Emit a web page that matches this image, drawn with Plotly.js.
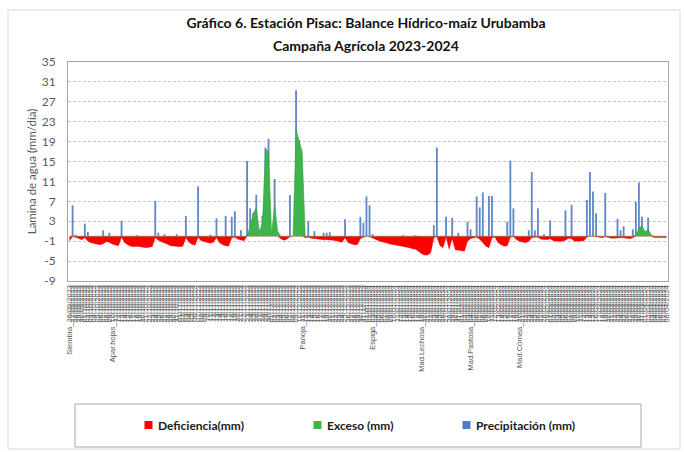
<!DOCTYPE html>
<html>
<head>
<meta charset="utf-8">
<script src="https://cdn.plot.ly/plotly-3.0.1.min.js"></script>
<style>html,body{margin:0;padding:0;background:#fff;}#chart{width:684px;height:452px;}</style>
</head>
<body>
<div id="chart"></div>
<script>
// Fechas (categorías del eje X) con etapas fenológicas
const fechas = [
"Siembra_26/09/2023","27/09/2023","28/09/2023","29/09/2023","30/09/2023",
"01/10/2023","02/10/2023","03/10/2023","04/10/2023","05/10/2023","06/10/2023","07/10/2023","08/10/2023","09/10/2023","Apar.hojas_10/10/2023",
"11/10/2023","12/10/2023","13/10/2023","14/10/2023","15/10/2023","16/10/2023","17/10/2023","18/10/2023","19/10/2023","20/10/2023",
"21/10/2023","22/10/2023","23/10/2023","24/10/2023","25/10/2023","26/10/2023","27/10/2023","28/10/2023","29/10/2023","30/10/2023","31/10/2023",
"01/11/2023","02/11/2023","03/11/2023","04/11/2023","05/11/2023","06/11/2023","07/11/2023","08/11/2023","09/11/2023","10/11/2023",
"11/11/2023","12/11/2023","13/11/2023","14/11/2023","15/11/2023","16/11/2023","17/11/2023","18/11/2023","19/11/2023","20/11/2023",
"21/11/2023","22/11/2023","23/11/2023","24/11/2023","25/11/2023","26/11/2023","27/11/2023","28/11/2023","29/11/2023","30/11/2023",
"01/12/2023","02/12/2023","03/12/2023","04/12/2023","05/12/2023","06/12/2023","07/12/2023","08/12/2023","09/12/2023","10/12/2023",
"Panoja_11/12/2023","12/12/2023","13/12/2023","14/12/2023","15/12/2023","16/12/2023","17/12/2023","18/12/2023","19/12/2023","20/12/2023",
"21/12/2023","22/12/2023","23/12/2023","24/12/2023","25/12/2023","26/12/2023","27/12/2023","28/12/2023","29/12/2023","30/12/2023","31/12/2023",
"01/01/2024","02/01/2024","Espiga_03/01/2024","04/01/2024","05/01/2024","06/01/2024","07/01/2024","08/01/2024","09/01/2024","10/01/2024",
"11/01/2024","12/01/2024","13/01/2024","14/01/2024","15/01/2024","16/01/2024","17/01/2024","18/01/2024","Mad.Lechosa_19/01/2024","20/01/2024",
"21/01/2024","22/01/2024","23/01/2024","24/01/2024","25/01/2024","26/01/2024","27/01/2024","28/01/2024","29/01/2024","30/01/2024","31/01/2024",
"01/02/2024","02/02/2024","03/02/2024","Mad.Pastosa_04/02/2024","05/02/2024","06/02/2024","07/02/2024","08/02/2024","09/02/2024","10/02/2024",
"11/02/2024","12/02/2024","13/02/2024","14/02/2024","15/02/2024","16/02/2024","17/02/2024","18/02/2024","19/02/2024","Mad.Córnea_20/02/2024",
"21/02/2024","22/02/2024","23/02/2024","24/02/2024","25/02/2024","26/02/2024","27/02/2024","28/02/2024","29/02/2024",
"01/03/2024","02/03/2024","03/03/2024","04/03/2024","05/03/2024","06/03/2024","07/03/2024","08/03/2024","09/03/2024","10/03/2024",
"11/03/2024","12/03/2024","13/03/2024","14/03/2024","15/03/2024","16/03/2024","17/03/2024","18/03/2024","19/03/2024","20/03/2024",
"21/03/2024","22/03/2024","23/03/2024","24/03/2024","25/03/2024","26/03/2024","27/03/2024","28/03/2024","29/03/2024","30/03/2024","31/03/2024",
"01/04/2024","02/04/2024","03/04/2024","04/04/2024","05/04/2024","06/04/2024","07/04/2024","08/04/2024"
];

// Deficiencia (mm) - valores negativos
const deficiencia = [
-0.9,-0.1,-0.2,-0.5,-0.7,-0.3,-1.0,-1.3,-1.5,-1.6,
-1.7,-1.5,-1.1,-1.2,-1.6,-1.8,-1.9,-0.2,-1.3,-1.7,
-2.0,-2.1,-2.0,-2.1,-2.2,-2.3,-2.2,-2.1,-0.3,-0.8,
-1.1,-1.3,-1.6,-1.9,-2.0,-2.0,-2.1,-2.0,-0.3,-1.2,
-1.6,-1.8,-0.2,-0.9,-1.1,-1.3,-1.4,-1.2,-0.3,-1.3,
-1.7,-1.9,-2.0,-0.3,-0.2,-0.6,-0.7,-0.9,0,0,
0,0,0,0,0,0,0,0,0,-0.5,
-0.8,-0.6,-0.1,0,0,0,0,-0.3,-0.2,-0.4,
-0.5,-0.6,-0.6,-0.7,-0.7,-0.7,-0.8,-0.9,-1.0,-1.2,
-0.3,-1.3,-1.5,-1.7,-1.7,-0.5,-0.2,0,-0.1,-0.4,
-0.7,-0.9,-1.1,-1.3,-1.4,-1.6,-1.7,-1.8,-1.9,-2.0,
-2.1,-2.3,-2.5,-2.6,-3.0,-3.5,-3.8,-3.8,-3.3,-0.3,
-0.1,-1.9,-2.3,-0.2,-2.6,-0.5,-2.7,-2.8,-2.9,-3.0,
-1.0,-0.5,-0.3,-0.2,-0.6,-1.2,-2.0,-2.3,-0.3,-0.2,
-1.3,-1.7,-2.0,-1.9,-0.2,-0.1,-0.7,-1.0,-1.2,-1.3,
-1.0,-0.3,-0.2,-0.2,-0.6,-0.7,-0.7,-0.5,-0.9,-1.0,
-1.0,-1.0,-0.8,-0.4,-0.5,-1.0,-1.0,-1.0,-0.9,-0.2,
0,0,-0.1,-0.2,-0.3,-0.1,-0.3,-0.4,-0.4,-0.3,
-0.3,-0.3,-0.4,-0.5,-0.3,0,0,0,0,0,
0,-0.25,-0.25,-0.25,-0.25,-0.25
];

// Exceso (mm)
const exceso = [
0,0,0,0,0,0,0,0,0,0,
0,0,0,0,0,0,0,0,0,0,
0,0,0,0,0,0,0,0,0,0,
0,0,0,0,0,0,0,0,0,0,
0,0,0,0,0,0,0,0,0,0,
0,0,0,0,0,0,0,0,0,2.0,
4.6,5.7,1.0,2.5,17.5,17.0,0.5,6.4,1.0,0,
0,0,0,0,21.3,19.3,17.0,0,0,0,
0,0,0,0,0,0,0,0,0,0,
0,0,0,0,0,0,0,0,0,0,
0,0,0,0,0,0,0,0,0,0,
0,0,0,0,0,0,0,0,0,0,
0,0,0,0,0,0,0,0,0,0,
0,0,0,0,0,0,0,0,0,0,
0,0,0,0,0,0,0,0,0,0,
0,0,0,0,0,0,0,0,0,0,
0,0,0,0,0,0,0,0,0,0,
0,0,0,0,0,0,0,0,0,0,
0,0,0,0,0,0.3,1.5,2.2,0.9,1.4,
0.3,0,0,0,0,0
];

// Precipitación (mm)
const precipitacion = [
0,6.2,0.3,0,0,2.5,0.9,0,0,0,
0,1.2,0,0.7,0,0,0,3.1,0,0,
0,0,0.2,0,0,0,0,0,7.1,0.7,
0,0.4,0,0,0,0.4,0,0,4.1,0,
0,0,10.0,0,0,0,0.3,0,3.6,0,
0,4.1,0,3.9,5.0,0,1.2,0,15.1,5.6,
4.6,8.3,0,4.1,17.8,19.6,0,11.5,0,0,
0,0,8.3,0,29.3,19.3,10.6,0,3.1,0,
1.0,0,0,0.7,0.7,0.8,0,0,0,0,
3.4,0,0,0,0,3.9,2.7,8.0,6.2,0.4,
0,0,0,0,0,0,0,0,0,0.2,
0,0,0,0.2,0,0,0,0,0,2.2,
17.8,0,0,3.9,0,3.7,0,0.7,0,0,
2.9,1.4,0,8.0,5.8,8.8,0,8.1,8.1,0,
0,0,0,2.9,15.2,5.6,0,0,0,0,
1.2,12.9,1.2,5.6,0,0.4,0,3.2,0,0,
0,0,5.2,0,6.3,0,0,0,0,7.3,
12.9,9.0,4.6,0,0,8.7,0,0,0,3.5,
1.2,2.0,0,0,1.4,6.9,10.8,3.9,0,3.7,
0,0,0,0,0,0
];

const yTicks = [-9,-5,-1,3,7,11,15,19,23,27,31,35];

const nombres = ["Deficiencia(mm)", "Exceso (mm)", "Precipitación (mm)"];
const colores = ["#ff0000", "#3db54a", "#4f7fc0"];

// plot area geometry helpers (pixels -> paper)
const PL = 68, PW = 600, PT = 62, PH = 219;
function fx(x){ return (x - PL) / PW; }
function fy(y){ return (PT + PH - y) / PH; }

const traces = [
  {
    type: 'scatter', mode: 'lines', name: nombres[0],
    x: fechas, y: deficiencia,
    fill: 'tozeroy', fillcolor: colores[0],
    line: {color: colores[0], width: 0.4, shape: 'linear'},
    hoverinfo: 'skip', showlegend: false
  },
  {
    type: 'scatter', mode: 'lines', name: nombres[1],
    x: fechas, y: exceso,
    fill: 'tozeroy', fillcolor: colores[1],
    line: {color: '#2f9a3f', width: 0.5, shape: 'linear'},
    hoverinfo: 'skip', showlegend: false
  },
  {
    type: 'bar', name: nombres[2],
    x: fechas, y: precipitacion,
    width: 0.6,
    marker: {color: '#6088c6', line: {width: 0}},
    hoverinfo: 'skip', showlegend: false
  }
];

const legendX = [[144.5, 152.5, 156], [313.5, 321.5, 325], [462.5, 470.5, 474]];
const shapes = [
  // outer chart border
  {type: 'rect', xref: 'paper', yref: 'paper', x0: fx(8), x1: fx(680), y0: fy(10), y1: fy(449),
   line: {color: '#d9d9d9', width: 1}, fillcolor: 'rgba(0,0,0,0)', layer: 'below'},
  // legend box
  {type: 'rect', xref: 'paper', yref: 'paper', x0: fx(75), x1: fx(641), y0: fy(404), y1: fy(447),
   line: {color: '#a6a6a6', width: 1}, fillcolor: 'rgba(0,0,0,0)'}
];
const annotations = [
  {text: 'Campaña Agrícola 2023-2024', xref: 'paper', yref: 'paper', x: fx(366), y: fy(45),
   xanchor: 'center', yanchor: 'middle', showarrow: false,
   font: {family: 'Lato, sans-serif', size: 14, weight: 'bold', color: '#111'}}
];
for (let i = 0; i < 3; i++) {
  shapes.push({type: 'rect', xref: 'paper', yref: 'paper',
    x0: fx(legendX[i][0]), x1: fx(legendX[i][1]), y0: fy(421), y1: fy(429),
    line: {width: 0}, fillcolor: colores[i]});
  annotations.push({text: nombres[i], xref: 'paper', yref: 'paper',
    x: fx(legendX[i][2]), y: fy(425), xanchor: 'left', yanchor: 'middle', showarrow: false,
    font: {family: 'Lato, sans-serif', size: 12, weight: 'bold', color: '#1a1a1a'}});
}

const layout = {
  width: 684, height: 452,
  margin: {l: PL, r: 684 - PL - PW, t: PT, b: 452 - PT - PH, pad: 0},
  paper_bgcolor: '#ffffff', plot_bgcolor: '#ffffff',
  showlegend: false,
  title: {
    text: 'Gráfico 6. Estación Pisac: Balance Hídrico-maíz Urubamba',
    xref: 'container', yref: 'container', x: 366 / 684, y: 1 - 23 / 452,
    xanchor: 'center', yanchor: 'middle',
    font: {family: 'Lato, sans-serif', size: 14, weight: 'bold', color: '#111'}
  },
  xaxis: {
    type: 'category', tickmode: 'linear', tick0: 0, dtick: 1,
    range: [-0.5, fechas.length - 0.5],
    tickangle: -90, ticks: '', showgrid: false, zeroline: false,
    showline: true, mirror: true, linecolor: '#a6a6a6', linewidth: 1,
    tickfont: {family: 'Liberation Sans, Arial, sans-serif', size: 7.5, color: '#555555'},
    automargin: false, fixedrange: true
  },
  yaxis: {
    range: [-9, 35], tickmode: 'array', tickvals: yTicks, ticktext: yTicks.map(String),
    showgrid: true, gridcolor: '#c4c4c4', griddash: '3px,2px', gridwidth: 1,
    zeroline: false, showline: true, mirror: true, linecolor: '#a6a6a6', linewidth: 1,
    ticks: '', ticklabelstandoff: 9,
    tickfont: {family: 'Lato, sans-serif', size: 12, color: '#595959'},
    title: {text: 'Lamina de agua (mm/día)', standoff: 2,
            font: {family: 'Lato, sans-serif', size: 11.5, color: '#595959'}},
    automargin: false, fixedrange: true
  },
  bargap: 0.4,
  shapes: shapes,
  annotations: annotations
};

Plotly.newPlot('chart', traces, layout, {displayModeBar: false, staticPlot: true});
</script>
</body>
</html>
